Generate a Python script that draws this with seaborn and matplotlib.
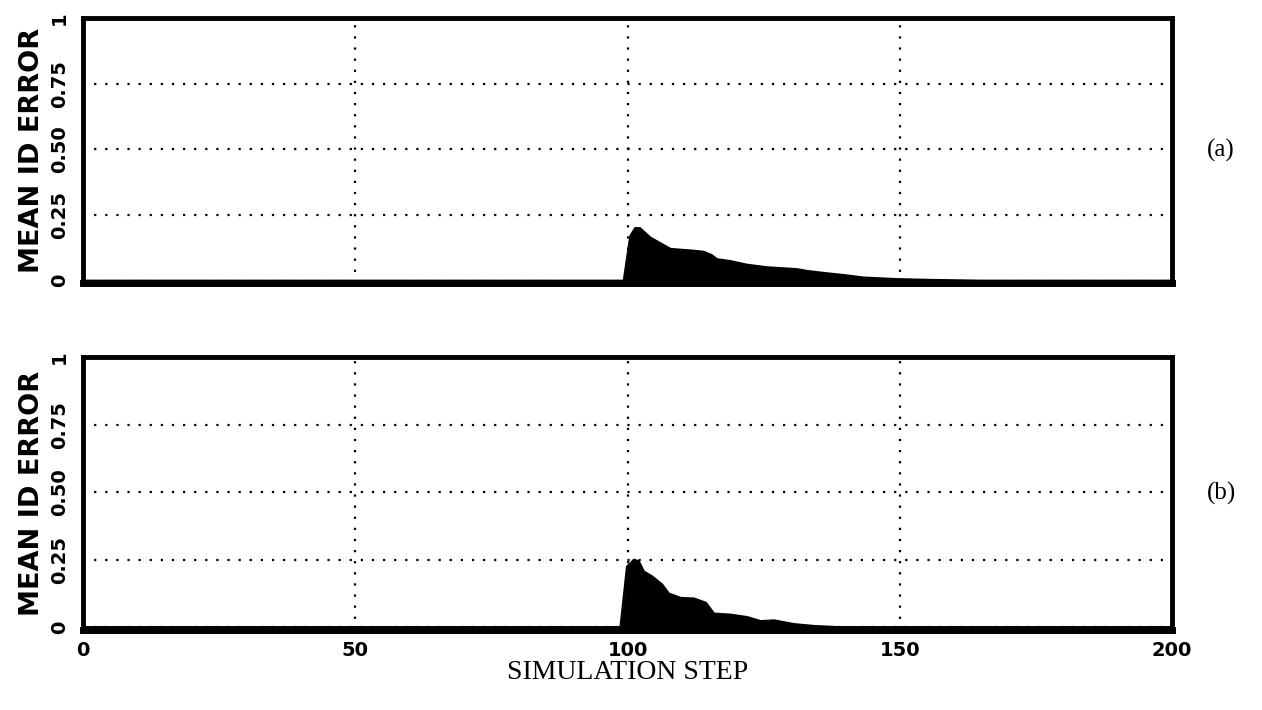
import matplotlib
matplotlib.use("Agg")
import matplotlib.pyplot as plt
import seaborn as sns
import pandas as pd

# ---- data ----
steps_a = [0, 50, 99.3, 100.5, 101.4, 102.3, 104.2, 107.9, 109.7, 112.2, 114.0, 115.5,
           116.4, 118.8, 121.9, 125.6, 131.1, 133.0, 135.4, 140.3, 143.3, 149.4, 155.6, 164.8, 200]
err_a = [0, 0, 0, 0.17, 0.20, 0.20, 0.164, 0.121, 0.118, 0.114, 0.110, 0.097,
         0.082, 0.075, 0.061, 0.051, 0.044, 0.037, 0.031, 0.020, 0.012, 0.006, 0.003, 0.0, 0]

steps_b = [0, 50, 98.7, 99.9, 101.2, 102.1, 103.0, 104.5, 106.4, 107.6, 109.8, 112.2, 114.4,
           115.9, 119.0, 122.0, 124.5, 126.9, 130.6, 134.3, 138.6, 146.5, 158.8, 200]
err_b = [0, 0, 0, 0.224, 0.25, 0.243, 0.206, 0.188, 0.157, 0.124, 0.108, 0.106, 0.090,
         0.050, 0.046, 0.037, 0.022, 0.025, 0.011, 0.004, 0.0, 0.0, 0.0, 0]

x_ticks = [0, 50, 100, 150, 200]
y_ticks = [0, 0.25, 0.5, 0.75, 1]
y_ticklabels = ["0", "0.25", "0.50", "0.75", "1"]
panel_labels = ["(a)", "(b)"]

sns.set_theme(style="white")
plt.rcParams['font.family'] = ['DejaVu Sans']
plt.rcParams['text.color'] = 'black'
plt.rcParams['axes.labelcolor'] = 'black'
plt.rcParams['xtick.color'] = 'black'
plt.rcParams['ytick.color'] = 'black'

fig = plt.figure(figsize=(12.62, 7.10), dpi=100)
ax_a = fig.add_axes([0.0658, 0.601, 0.8629, 0.3736])
ax_b = fig.add_axes([0.0658, 0.113, 0.8629, 0.384])

for ax, st, er, lab in [(ax_a, steps_a, err_a, panel_labels[0]),
                        (ax_b, steps_b, err_b, panel_labels[1])]:
    df = pd.DataFrame({"step": st, "err": er})
    sns.lineplot(data=df, x="step", y="err", ax=ax, color="black", linewidth=1.5)
    ax.fill_between(df["step"], 0, df["err"], color="black", linewidth=0)
    ax.set_xlim(0, 200)
    ax.set_ylim(-0.01, 1)
    ax.set_xticks(x_ticks)
    ax.set_yticks(y_ticks)
    ax.set_yticklabels(y_ticklabels, rotation=90, va="center", fontsize=14,
                       fontweight="bold", color="black")
    ax.grid(True, linestyle=(0, (1, 4)), color="black", linewidth=1.6)
    for s in ax.spines.values():
        s.set_linewidth(3.5)
        s.set_color("black")
    ax.spines["bottom"].set_linewidth(5)
    ax.tick_params(axis="y", direction="out", length=6, width=1.5, color="black", pad=4)
    ax.set_ylabel("MEAN ID ERROR", fontsize=19.5, fontweight="bold", labelpad=4,
                  color="black")
    ax.set_xlabel("")
    ax.text(1.045, 0.5, lab, transform=ax.transAxes, fontsize=18, color="black",
            family="Liberation Serif", va="center", ha="center")

ax_a.tick_params(axis="x", length=0, labelbottom=False)
ax_b.tick_params(axis="x", direction="out", length=6, width=1.5, color="black",
                 labelsize=14, pad=2)
for t in ax_b.get_xticklabels():
    t.set_fontweight("bold")
    t.set_color("black")
ax_b.set_xlabel("SIMULATION STEP", fontsize=20, family="Liberation Serif",
                color="black", va="top")
ax_b.xaxis.set_label_coords(0.5, -0.112)

fig.savefig("out.png", dpi=100)
